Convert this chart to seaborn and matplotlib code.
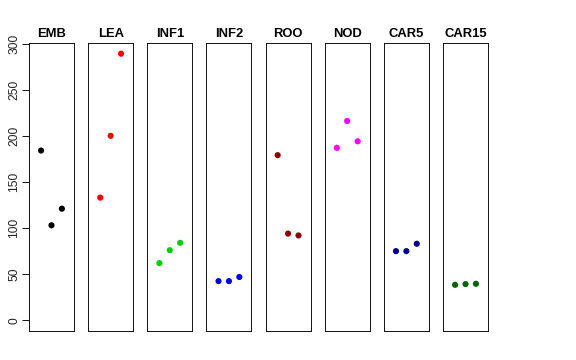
import matplotlib.pyplot as plt
import pandas as pd
import seaborn as sns

tissues = ["EMB", "LEA", "INF1", "INF2", "ROO", "NOD", "CAR5", "CAR15"]
colors = ["black", "#FF0000", "#00CD00", "#0000FF", "#8B0000", "#FF00FF", "#00008B", "#006400"]
replicate = [1, 2, 3]

emb = [184, 103, 121]
lea = [133, 200, 289]
inf1 = [62, 76, 84]
inf2 = [42.5, 42.5, 47]
roo = [179, 94, 92]
nod = [187, 216, 194]
car5 = [75, 75, 83]
car15 = [38.5, 39.3, 39.6]

values = [emb, lea, inf1, inf2, roo, nod, car5, car15]
yticks = [0, 50, 100, 150, 200, 250, 300]

df = pd.DataFrame(
    [(t, r, v) for t, vals in zip(tissues, values) for r, v in zip(replicate, vals)],
    columns=["tissue", "rep", "value"],
)

plt.rcParams["font.family"] = ["Liberation Sans", "DejaVu Sans"]

fig, axes = plt.subplots(1, 8, figsize=(8, 5), dpi=72)
plt.subplots_adjust(left=29 / 576, right=488 / 576, top=1 - 43 / 360, bottom=1 - 331 / 360, wspace=0.315)

ymax = df["value"].max()
pad = 0.04 * ymax
for i, (ax, t, c) in enumerate(zip(axes, tissues, colors)):
    sns.scatterplot(data=df[df.tissue == t], x="rep", y="value", color=c, s=38,
                    edgecolor="none", ax=ax, legend=False)
    ax.set_xlim(-0.16, 4.16)
    ax.set_ylim(0 - pad, ymax + pad)
    ax.set_xticks([])
    ax.set_xlabel("")
    ax.set_ylabel("")
    ax.set_title(t, fontsize=13, fontweight="bold", pad=6, color="black")
    for s in ax.spines.values():
        s.set_color("black")
        s.set_linewidth(0.9)
    if i == 0:
        ax.set_yticks(yticks)
        ax.tick_params(axis="y", length=0, pad=9)
        plt.setp(ax.get_yticklabels(), rotation=90, va="center", fontsize=12,
                 color="#222222")
        # R-style outward tick marks, 7 px long
        ax.hlines(yticks, -7 / 45, 0, transform=ax.get_yaxis_transform(),
                  colors="black", linewidth=0.9, clip_on=False)
    else:
        ax.set_yticks([])

fig.savefig("out.png", dpi=72)
